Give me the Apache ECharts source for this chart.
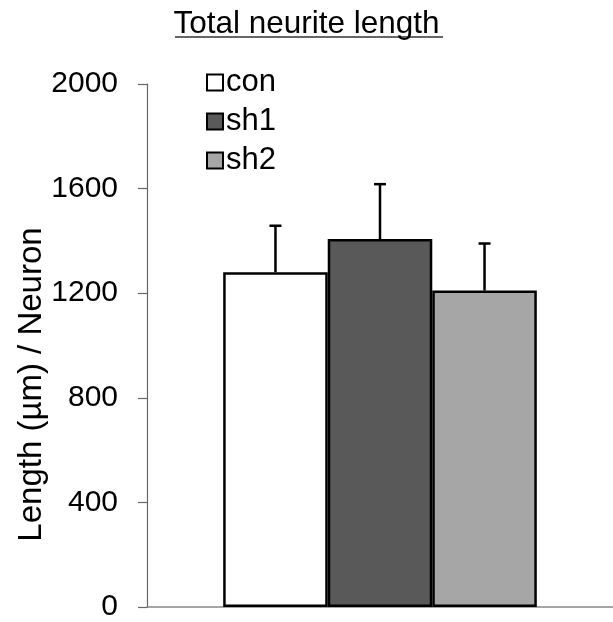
<!DOCTYPE html>
<html>
<head>
    <meta charset="utf-8">
    <title>Total neurite length</title>
    <script src="https://cdn.jsdelivr.net/npm/echarts@6/dist/echarts.min.js"></script>
    <style>
        html, body { margin: 0; padding: 0; background: #fff; }
        #chartmain { width: 613px; height: 622px; }
    </style>
</head>
<body>
<div id="chartmain"></div>
<script>
    // data
    var groups = ['con', 'sh1', 'sh2'];
    var means = [1280, 1407, 1210];
    var errTops = [1458, 1617, 1390];
    var barColors = ['#ffffff', '#595959', '#a6a6a6'];
    var yTicks = [0, 400, 800, 1200, 1600, 2000];

    var gapPct = 0.327;
    var font = 'Liberation Sans, Arial, sans-serif';

    var series = [];
    for (var i = 0; i < groups.length; i++) {
        series.push({
            name: groups[i],
            type: 'bar',
            barGap: 0,
            barCategoryGap: (gapPct * 100) + '%',
            data: [means[i]],
            itemStyle: {color: barColors[i], borderColor: '#000', borderWidth: 2.5},
            z: 2
        });
    }

    var errData = [];
    for (var i = 0; i < groups.length; i++) {
        errData.push([0, means[i], errTops[i], i]);
    }
    series.push({
        type: 'custom',
        data: errData,
        z: 3,
        renderItem: function (params, api) {
            var base = api.coord([api.value(0), api.value(1)]);
            var top = api.coord([api.value(0), api.value(2)]);
            var band = api.size([1, 0])[0];
            var barW = band * (1 - gapPct) / groups.length;
            var x = base[0] + (api.value(3) - 1) * barW;
            var style = {stroke: '#000', lineWidth: 2.5};
            return {
                type: 'group',
                children: [
                    {type: 'line', shape: {x1: x, y1: base[1], x2: x, y2: top[1]}, style: style},
                    {type: 'line', shape: {x1: x - 6, y1: top[1], x2: x + 6, y2: top[1]}, style: style}
                ]
            };
        }
    });

    var option = {
        animation: false,
        backgroundColor: '#fff',
        title: {
            text: 'Total neurite length',
            left: 'center',
            top: 3,
            textStyle: {fontFamily: font, fontSize: 31.5, fontWeight: 'normal', color: '#000'}
        },
        graphic: [{
            type: 'line',
            shape: {x1: 175, y1: 37, x2: 443, y2: 37},
            style: {stroke: '#333', lineWidth: 1.5}
        }],
        legend: {
            data: groups,
            orient: 'vertical',
            left: 201,
            top: 62,
            icon: 'rect',
            itemWidth: 16,
            itemHeight: 16,
            itemGap: 8,
            itemStyle: {borderColor: '#000', borderWidth: 2},
            textStyle: {fontFamily: font, fontSize: 31, color: '#000', padding: [0, 0, 0, -2]}
        },
        grid: {left: 147, right: 0, top: 84, bottom: 15},
        xAxis: {
            type: 'category',
            data: ['Total'],
            axisLine: {lineStyle: {color: '#888', width: 1.5}},
            axisTick: {show: false},
            axisLabel: {show: false}
        },
        yAxis: {
            type: 'value',
            min: yTicks[0],
            max: yTicks[yTicks.length - 1],
            interval: 400,
            name: 'Length (µm) / Neuron',
            nameLocation: 'middle',
            nameGap: 99,
            nameRotate: 90,
            nameMoveOverlap: false,
            nameTextStyle: {fontFamily: font, fontSize: 33, color: '#000', padding: [0, 78, 0, 0]},
            axisLine: {show: true, lineStyle: {color: '#666', width: 1.2}},
            axisTick: {show: true, length: 9, lineStyle: {color: '#666', width: 1.2}},
            axisLabel: {
                fontFamily: font, fontSize: 30, color: '#000', margin: 29,
                formatter: function (v) { return String(v); }
            },
            splitLine: {show: false}
        },
        series: series
    };

    var myChart = echarts.init(document.getElementById('chartmain'));
    myChart.setOption(option);
</script>
</body>
</html>
